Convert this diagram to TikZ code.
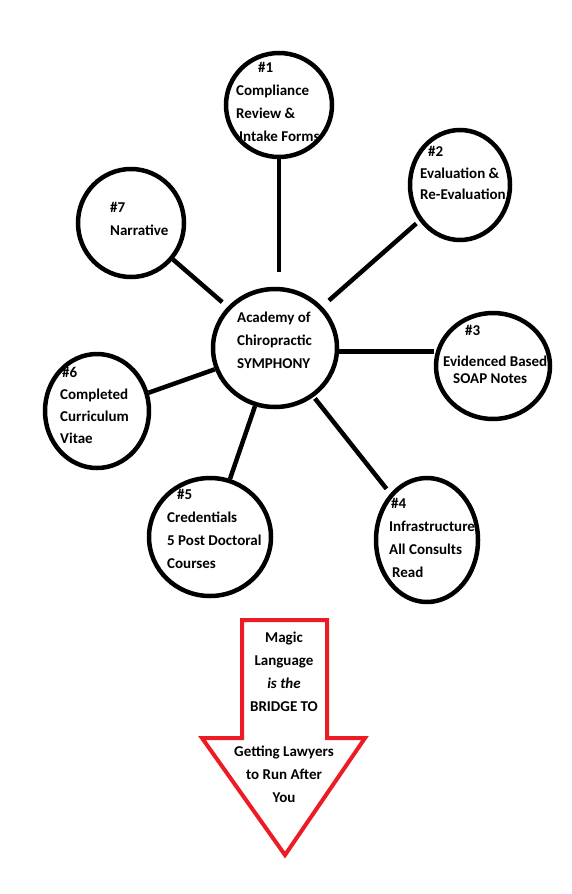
\documentclass[tikz,border=0pt]{standalone}
\usepackage{fontspec}
\setmainfont{Carlito}
\usetikzlibrary{shapes.geometric}
\definecolor{paintRed}{HTML}{ED1C24}

\begin{document}
\begin{tikzpicture}[
    x=1pt, y=-1pt,
    font=\fontsize{15}{23}\selectfont\bfseries,
    bubble/.style={ellipse, draw, line width=4.5pt, inner sep=0pt},
    blurb/.style={align=left, inner sep=0pt, anchor=west},
    spoke/.style={line width=4.5pt},
    banner/.style={align=center, inner sep=0pt}
  ]
    \useasboundingbox (0,0) rectangle (571,894);

    % hub and the seven bubbles
    \node[bubble, minimum width=124pt, minimum height=118pt] (hub) at (275,348) {};
    \node[bubble, minimum width=106pt, minimum height=104pt] (n1) at (279,105) {};
    \node[bubble, minimum width=100pt, minimum height=110pt] (n2) at (460,185) {};
    \node[bubble, minimum width=114pt, minimum height=106pt] (n3) at (493,366) {};
    \node[bubble, minimum width=102pt, minimum height=124pt] (n4) at (427,540) {};
    \node[bubble, minimum width=122pt, minimum height=118pt] (n5) at (210,537) {};
    \node[bubble, minimum width=104pt, minimum height=114pt] (n6) at (97,411) {};
    \node[bubble, minimum width=106pt, minimum height=108pt] (n7) at (131,223) {};

    \node[blurb] (hubtext) at (237,340) {Academy of\\Chiropractic\\SYMPHONY};
    \node[blurb] (t1) at (236,102) {\hspace{22pt}\#1\\Compliance\\Review \&\\\hspace{3pt}Intake Forms};
    \node[blurb] (t2) at (420,173) {\hspace{8pt}\#2\\[-1.5pt]Evaluation \&\\[-1.5pt]Re-Evaluation};
    \node[blurb] (t3) at (443,354) {\hspace{22pt}\#3\\[8pt]Evidenced Based\\[-6pt]\hspace{10pt}SOAP Notes};
    \node[blurb] (t4) at (389,538) {\hspace{2pt}\#4\\Infrastructure\\All Consults\\\hspace{3pt}Read};
    \node[blurb] (t5) at (167,529) {\hspace{10pt}\#5\\Credentials\\5 Post Doctoral\\Courses};
    \node[blurb] (t6) at (60,405) {\hspace{2pt}\#6\\[-1pt]Completed\\[-1pt]Curriculum\\[-1pt]Vitae};
    \node[blurb] (t7) at (110,219) {\#7\\Narrative};

    % spokes
    \draw[spoke, shorten >=15pt] (n1.south) -- (n1.south |- hub.north);
    \draw[spoke, shorten <=9pt, shorten >=4pt] (hub) -- (n2);
    \draw[spoke] (hub.-3) -- (hub.-3 -| n3.west);
    \draw[spoke, shorten <=2pt, shorten >=6pt] (hub) -- (n4);
    \draw[spoke] (hub) -- (n5);
    \draw[spoke] (hub) -- (n6);
    \draw[spoke, shorten <=7pt] (hub) -- (n7);

    % red arrow
    \draw[paintRed, line width=4pt, miter limit=10]
      (242,620) -- (327,620) -- (327,738) -- (365,738) -- (285,855)
      -- (202,738) -- (242,738) -- cycle;
    \node[banner] (magic) at (284,672) {Magic\\Language\\\textit{is the}\\BRIDGE TO};
    \node[banner] (lawyers) at (284,774) {Getting Lawyers\\to Run After\\You};
  \end{tikzpicture}
\end{document}
